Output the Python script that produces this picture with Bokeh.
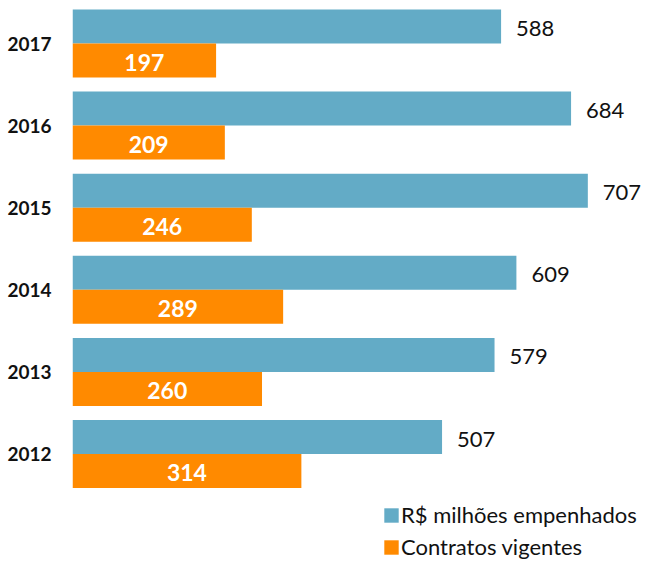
from bokeh.plotting import figure
from bokeh.models import ColumnDataSource, Range1d, Legend, LegendItem, FixedTicker
from bokeh.transform import dodge
from bokeh.core.properties import value
from bokeh.embed import file_html
from bokeh.resources import INLINE

years = [2017, 2016, 2015, 2014, 2013, 2012]
empenhados = [588, 684, 707, 609, 579, 507]
contratos = [197, 209, 246, 289, 260, 314]
labels_series = ["R$ milhões empenhados", "Contratos vigentes"]

BLUE = "#63ABC6"
ORANGE = "#FF8A00"
FONT = "Lato"

src = ColumnDataSource(dict(
    year=years,
    emp=empenhados,
    con=contratos,
    con_mid=[c / 2 for c in contratos],
    emp_txt=[str(v) for v in empenhados],
    con_txt=[str(v) for v in contratos],
))

W, H = 642, 563
LEFT, TOP = 72, 7
scale = 0.7289          # px per unit
px_per_year = 82.1
frame_w = W - LEFT
frame_h = H - TOP

p = figure(width=W, height=H, output_backend="svg", toolbar_location=None,
           x_range=Range1d(0, frame_w / scale),
           y_range=Range1d(2017 + 0.4385 - frame_h / px_per_year, 2017 + 0.4385),
           min_border_left=LEFT, min_border_right=0, min_border_top=TOP, min_border_bottom=0)
p.outline_line_color = None
p.grid.visible = False
p.xaxis.visible = False

ya = p.yaxis[0]
ya.ticker = FixedTicker(ticks=years)
ya.axis_line_color = None
ya.major_tick_line_color = None
ya.minor_tick_line_color = None
ya.major_tick_out = 0
ya.major_tick_in = 0
ya.major_label_standoff = 21
ya.major_label_text_font = FONT
ya.major_label_text_font_style = "bold"
ya.major_label_text_font_size = "19px"
ya.major_label_text_color = "#111111"

h = 0.414
r1 = p.hbar(y=dodge("year", h / 2), left=0, right="emp", height=h, source=src,
            fill_color=BLUE, line_color=None)
r2 = p.hbar(y=dodge("year", -h / 2), left=0, right="con", height=h, source=src,
            fill_color=ORANGE, line_color=None)

p.text(x="emp", y=dodge("year", h / 2), text="emp_txt", source=src, x_offset=15, y_offset=2,
       text_align="left", text_baseline="middle", text_font=value(FONT),
       text_font_size="22px", text_color="#111111")
p.text(x="con_mid", y=dodge("year", -h / 2), text="con_txt", source=src, y_offset=2,
       text_align="center", text_baseline="middle", text_font=value(FONT),
       text_font_style="bold", text_font_size="23px", text_color="white")

legend = Legend(items=[LegendItem(label=labels_series[0], renderers=[r1]),
                       LegendItem(label=labels_series[1], renderers=[r2])],
                location=(310, 3), orientation="vertical",
                padding=0, margin=0, spacing=5, border_line_color=None,
                background_fill_alpha=0, glyph_width=18, glyph_height=18,
                label_height=24, label_standoff=1,
                label_text_font=FONT, label_text_font_size="22px",
                label_text_color="#111111")
p.add_layout(legend)

open("out.html", "w").write(file_html(p, INLINE))
